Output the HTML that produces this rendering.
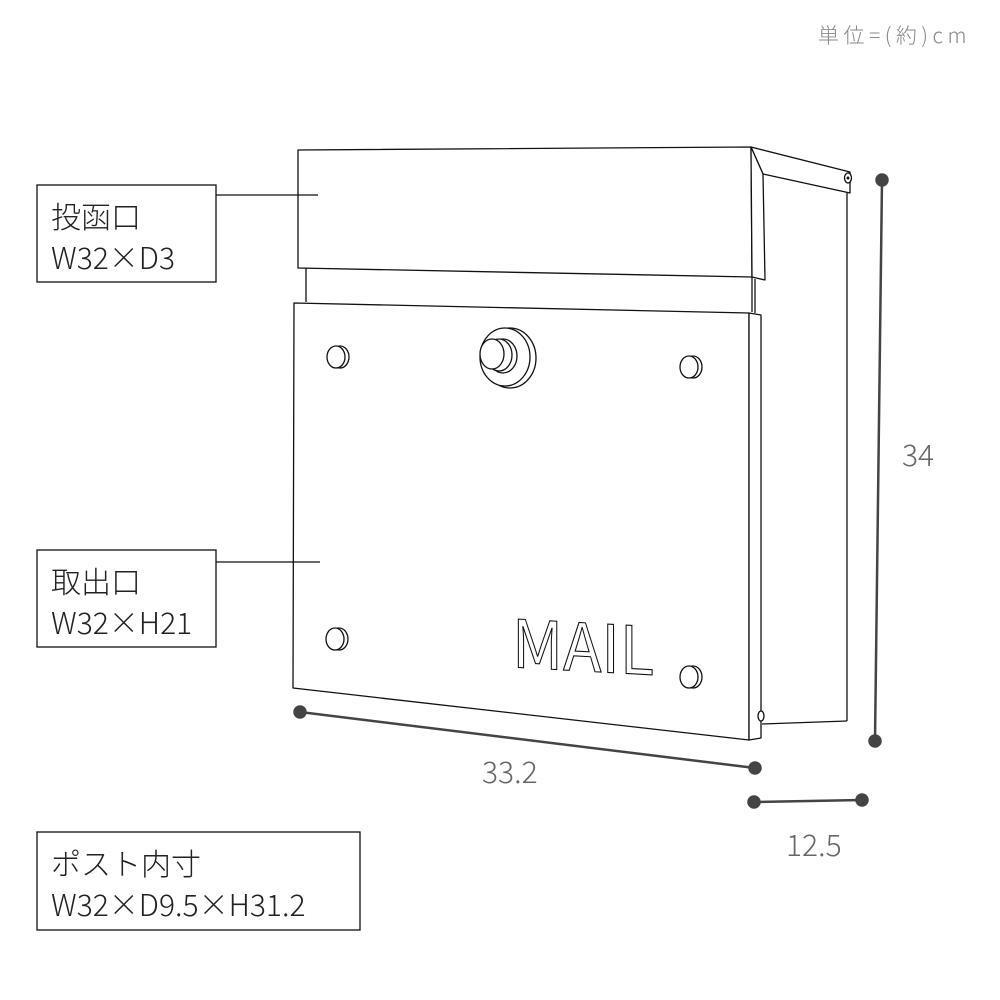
<!DOCTYPE html>
<html><head><meta charset="utf-8"><style>
html,body{margin:0;padding:0;background:#fff;}
svg{display:block;}
.t{font-family:"Liberation Sans","Noto Sans CJK JP",sans-serif;}
.j{font-family:"Noto Sans CJK JP",sans-serif;}
</style></head><body>
<svg width="1000" height="1000" viewBox="0 0 1000 1000" xmlns="http://www.w3.org/2000/svg">
<rect width="1000" height="1000" fill="#fff"/>
<text x="818" y="43" class="j" font-size="21" font-weight="300" fill="#888" letter-spacing="4.5">単位=(約)cm</text>
<g fill="none" stroke="#111" stroke-width="1.3" stroke-linejoin="round">
<polygon points="751,147 850,172 850,193 763,174" fill="#fff"/>
<line x1="847" y1="193" x2="847" y2="721"/>
<line x1="762" y1="724" x2="847" y2="721"/>
<ellipse cx="848" cy="178" rx="3.5" ry="5" fill="#fff"/>
<circle cx="848" cy="178" r="0.8" fill="#111"/>
<polygon points="298,150 751,147 752,277 298,268" fill="#fff"/>
<polygon points="751,147 763,174 765,280 752,277" fill="#fff"/>
<line x1="306" y1="268" x2="306" y2="302"/>
<line x1="752" y1="277" x2="752" y2="312"/>
<line x1="755" y1="279" x2="755" y2="313"/>
<polygon points="294,303 749,313 749,740 293,688" fill="#fff"/>
<polygon points="749,313 761,315 761,738 749,740" fill="#fff"/>
<ellipse cx="761" cy="716" rx="3" ry="5" fill="#fff"/>
<g fill="#fff">
<ellipse cx="340" cy="357" rx="9" ry="11"/><ellipse cx="336" cy="357" rx="9" ry="11"/>
<ellipse cx="693" cy="367" rx="9" ry="11"/><ellipse cx="689" cy="367" rx="9" ry="11"/>
<ellipse cx="339" cy="639" rx="9" ry="11"/><ellipse cx="335" cy="639" rx="9" ry="11"/>
<ellipse cx="693" cy="677" rx="9" ry="11"/><ellipse cx="689" cy="677" rx="9" ry="11"/>
<ellipse cx="510" cy="358" rx="26" ry="30"/>
<ellipse cx="505" cy="357" rx="25" ry="29"/>
<ellipse cx="503" cy="356" rx="14" ry="17"/>
<ellipse cx="499" cy="355" rx="13" ry="16"/>
<ellipse cx="492" cy="354" rx="12" ry="15"/>
</g>
</g>
<text x="512" y="0" class="j" font-size="66" font-weight="400" fill="#fff" stroke="#111" stroke-width="1.1" transform="matrix(1 0.055 0 1 0 0) translate(0 639)" textLength="142" lengthAdjust="spacingAndGlyphs">MAIL</text>
<g stroke="#111" stroke-width="1.2">
<line x1="216" y1="195" x2="318" y2="195"/>
<line x1="216" y1="562" x2="320" y2="562"/>
</g>
<g stroke="#444" stroke-width="2.5" fill="#444">
<line x1="300" y1="712" x2="755" y2="768"/>
<circle cx="300" cy="712" r="5.5"/><circle cx="755" cy="768" r="5.5"/>
<line x1="754" y1="802" x2="862" y2="800"/>
<circle cx="754" cy="802" r="5.5"/><circle cx="862" cy="800" r="5.5"/>
<line x1="882" y1="180" x2="875" y2="741"/>
<circle cx="882" cy="180" r="5.5"/><circle cx="875" cy="741" r="5.5"/>
</g>
<g class="j" font-size="30" font-weight="300" fill="#666">
<text x="482" y="783">33.2</text>
<text x="786" y="856">12.5</text>
<text x="902" y="466">34</text>
</g>
<g fill="#fff" stroke="#111" stroke-width="1.3">
<rect x="37" y="185" width="179" height="97"/>
<rect x="37" y="550" width="179" height="97"/>
<rect x="37" y="832" width="323" height="98"/>
</g>
<g class="j" font-size="30" font-weight="300" fill="#222">
<text x="51" y="228">投函口</text>
<text x="51" y="269">W32×D3</text>
<text x="51" y="593">取出口</text>
<text x="51" y="634">W32×H21</text>
<text x="51" y="875">ポスト内寸</text>
<text x="51" y="916">W32×D9.5×H31.2</text>
</g>
</svg>
</body></html>
